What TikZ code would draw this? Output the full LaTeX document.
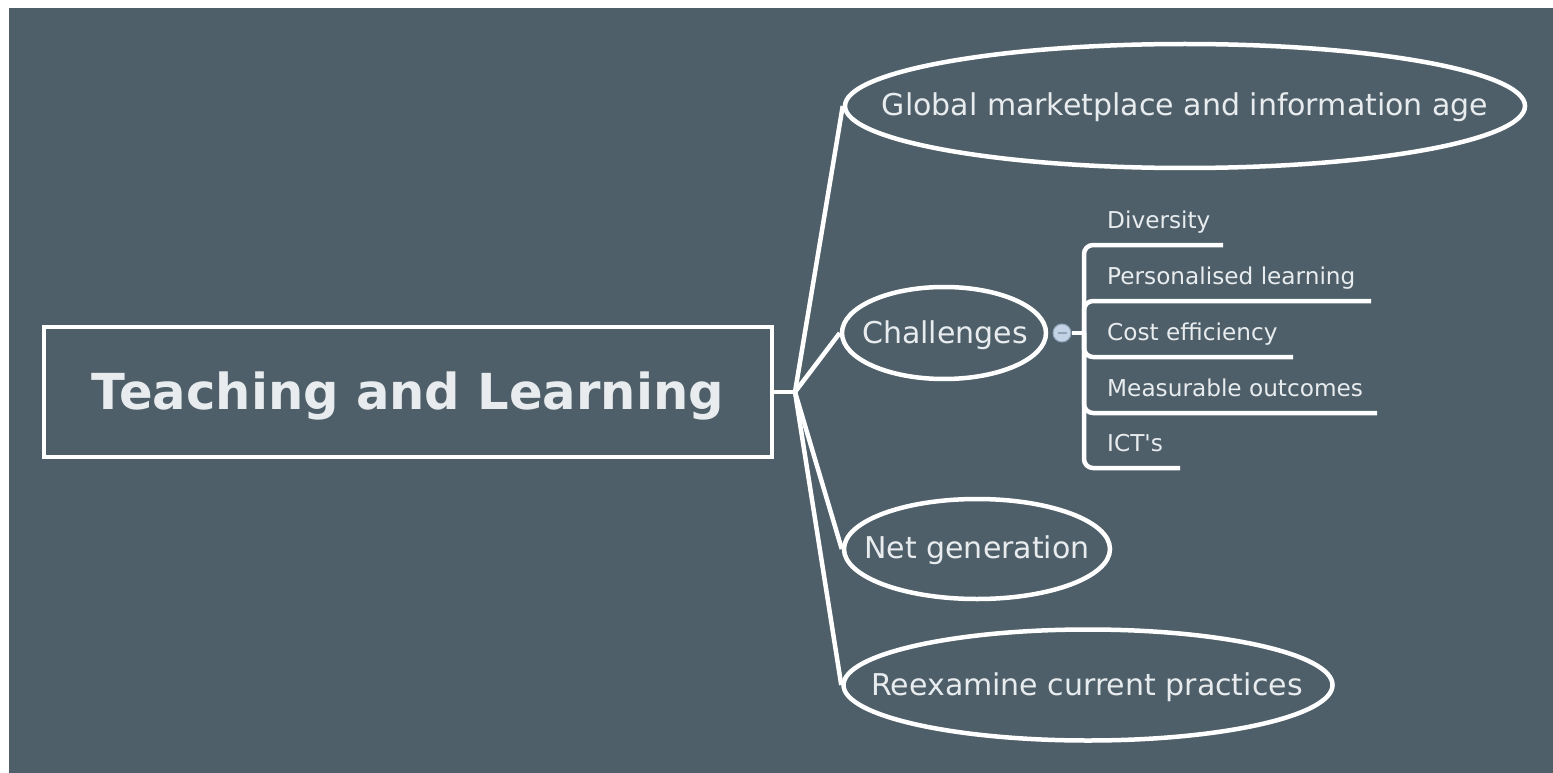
\documentclass[tikz,border=0pt]{standalone}
\usepackage{fontspec}
\setmainfont{DejaVu Sans}
\usetikzlibrary{shapes.geometric}
\definecolor{bg}{HTML}{4E5F69}
\definecolor{txt}{HTML}{E8ECEE}
\definecolor{btn}{HTML}{C3D3E5}
\definecolor{btnline}{HTML}{8FA5BB}
\tikzset{
  wire/.style={draw=white, line width=4.5pt, line join=round},
  oval/.style={ellipse, draw=white, line width=4.5pt, inner sep=0pt},
  bigtxt/.style={text=txt, font=\fontsize{30}{36}\selectfont, anchor=base, inner sep=0pt},
  subtxt/.style={text=txt, font=\fontsize{23.2}{28}\selectfont, anchor=base west, inner sep=0pt},
  underl/.style={draw=white, line width=4.5pt, rounded corners=9pt},
}
\begin{document}
\begin{tikzpicture}[x=1pt,y=-1pt]
\useasboundingbox (0,0) rectangle (1553,773);
\fill[white] (0,0) rectangle (1553,773);
\fill[bg] (9,8) rectangle (1553,773);

% main topic
\node[draw=white, line width=4.5pt, fill=bg, minimum width=728pt, minimum height=130pt, inner sep=0pt] (main) at (408,392) {};
\node[text=txt, font=\bfseries\fontsize{49.6}{58}\selectfont, anchor=base, inner sep=0pt] (maintxt) at (408,409) {Teaching and Learning};

% branch ovals
\node[oval, minimum width=680pt, minimum height=124pt] (glob) at (1185,106) {};
\node[bigtxt] (globtxt) at (1185,116) {Global marketplace and information age};

\node[oval, minimum width=204pt, minimum height=92pt] (chal) at (944,333) {};
\node[bigtxt] (chaltxt) at (945,343) {Challenges};

\node[oval, minimum width=266pt, minimum height=100pt] (netg) at (977,549) {};
\node[bigtxt] (netgtxt) at (977,558) {Net generation};

\node[oval, minimum width=489pt, minimum height=111pt] (reex) at (1088,685) {};
\node[bigtxt] (reextxt) at (1087,695) {Reexamine current practices};

% connectors from main topic
\coordinate (j) at (795,392);
\draw[wire] (main.east) -- (j);
\draw[wire] (j) -- (glob.west);
\draw[wire] (j) -- (chal.west);
\draw[wire] (j) -- (netg.west);
\draw[wire] (j) -- (reex.west);

% collapse button and sub-branches
\coordinate (k) at (1084,333);
\node[circle, fill=btn, draw=btnline, line width=1pt, minimum size=18pt, inner sep=0pt] (btn) at (1062,333) {};
\draw[wire] (btn.east) -- (k);
\draw[btnline, line width=2pt] ([xshift=-4.5pt]btn.center) -- ([xshift=4.5pt]btn.center);

\node[subtxt] (s1) at (1107,228) {Diversity};
\node[subtxt] (s2) at (1107,284) {Personalised learning};
\node[subtxt] (s3) at (1107,340) {Cost efficiency};
\node[subtxt] (s4) at (1107,396) {Measurable outcomes};
\node[subtxt] (s5) at (1107,451) {ICT\textquotesingle s};

\coordinate (e1) at (1223,245);
\coordinate (e2) at (1371,301);
\coordinate (e3) at (1293,357);
\coordinate (e4) at (1377,413);
\coordinate (e5) at (1180,468);

\draw[underl] (k) |- (e1);
\draw[underl] (k) |- (e2);
\draw[underl] (k) |- (e3);
\draw[underl] (k) |- (e4);
\draw[underl] (k) |- (e5);
\end{tikzpicture}
\end{document}
